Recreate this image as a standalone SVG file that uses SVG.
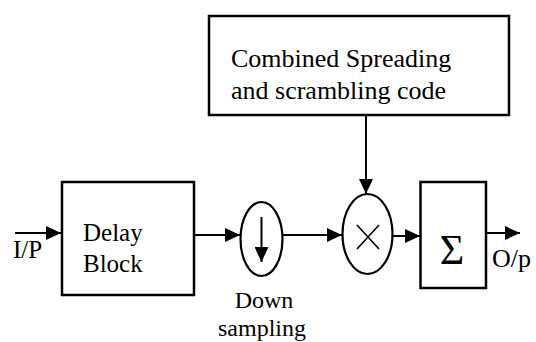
<svg xmlns="http://www.w3.org/2000/svg" width="536" height="342" viewBox="0 0 536 342">
  <style>
    .box { fill: #fff; stroke: #000; stroke-width: 2.5; }
    .ell { fill: #fff; stroke: #000; stroke-width: 2.2; }
    .wire { fill: none; stroke: #000; stroke-width: 2; }
  </style>
  <defs>
    <marker id="arrow" markerUnits="userSpaceOnUse" markerWidth="15" markerHeight="14" refX="15" refY="7" orient="auto">
      <path d="M0,0 L15,7 L0,14 Z" fill="#000"/>
    </marker>
  </defs>

  <rect width="536" height="342" fill="#fff"/>

  <!-- connectors -->
  <g id="connectors">
    <line class="wire" x1="15" y1="233" x2="61" y2="233" marker-end="url(#arrow)"/>
    <line class="wire" x1="194" y1="235" x2="240" y2="235" marker-end="url(#arrow)"/>
    <line class="wire" x1="283" y1="235" x2="342" y2="235" marker-end="url(#arrow)"/>
    <line class="wire" x1="366" y1="116" x2="366" y2="194" marker-end="url(#arrow)"/>
    <line class="wire" x1="393" y1="236" x2="420" y2="236" marker-end="url(#arrow)"/>
    <line class="wire" x1="486" y1="233" x2="520" y2="233" marker-end="url(#arrow)"/>
  </g>

  <g font-family="Liberation Serif, Times New Roman, serif" font-size="24" fill="#000">
    <!-- input label -->
    <g id="input">
      <text x="13" y="258" font-size="25">I/P</text>
    </g>

    <!-- delay block -->
    <g id="delay" font-size="25">
      <rect class="box" x="62" y="182" width="132" height="113"/>
      <text x="83" y="241">Delay</text>
      <text x="83" y="272">Block</text>
    </g>

    <!-- down-sampler -->
    <g id="downsample">
      <ellipse class="ell" cx="261.5" cy="239" rx="21" ry="37"/>
      <line class="wire" x1="261.5" y1="217" x2="261.5" y2="262" marker-end="url(#arrow)"/>
      <text x="264" y="308" text-anchor="middle">Down</text>
      <text x="262" y="336" text-anchor="middle">sampling</text>
    </g>

    <!-- code generator -->
    <g id="code" font-size="26">
      <rect class="box" x="209" y="16" width="300" height="99"/>
      <text x="231" y="67">Combined Spreading</text>
      <text x="231" y="99">and scrambling code</text>
    </g>

    <!-- multiplier -->
    <g id="multiply">
      <ellipse class="ell" cx="367.5" cy="234" rx="25" ry="40"/>
      <path d="M357,225 L379,249 M379,225 L357,249" fill="none" stroke="#000" stroke-width="1.6"/>
    </g>

    <!-- summation -->
    <g id="sum">
      <rect class="box" x="420.5" y="182" width="65.5" height="106"/>
      <text x="452" y="264" text-anchor="middle" font-size="42">Σ</text>
    </g>

    <!-- output label -->
    <g id="output">
      <text x="492" y="267" font-size="26">O/p</text>
    </g>
  </g>
</svg>
